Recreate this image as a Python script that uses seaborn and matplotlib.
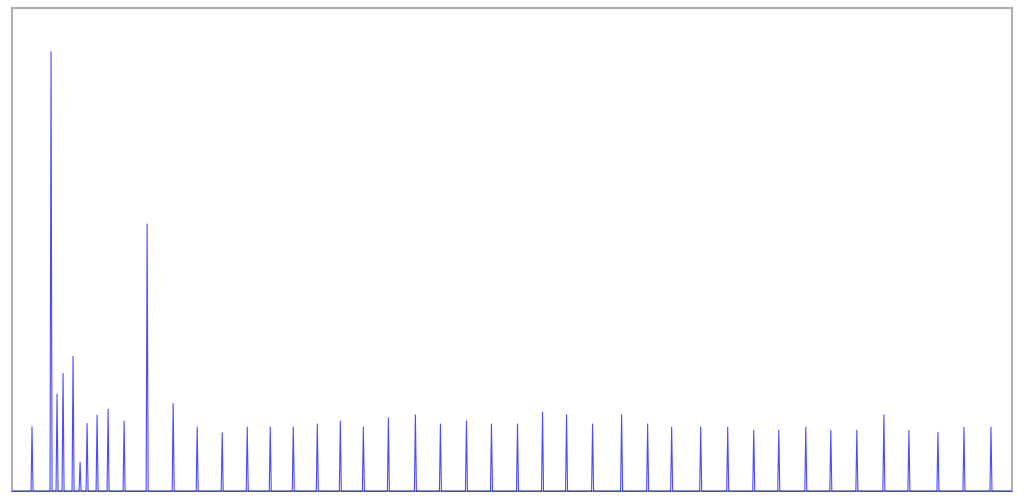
import numpy as np
import pandas as pd
import matplotlib
matplotlib.use('Agg')
import matplotlib.pyplot as plt
import seaborn as sns

# --- Dados (posição do pico no eixo de tempo, altura) ---
n_points = 1000
spike_pos = [20, 39, 45, 51, 61, 68, 75, 85, 96, 112, 135, 161, 185, 210,
             235, 258, 281, 305, 328, 351, 376, 403, 428, 454, 479, 505,
             530, 554, 580, 609, 635, 659, 688, 715, 741, 766, 793, 818,
             844, 871, 896, 925, 951, 978]
spike_val = [14.7, 100.0, 22.1, 26.8, 30.7, 6.6, 15.4, 17.3, 18.7, 16.0,
             60.8, 20.0, 14.6, 13.3, 14.6, 14.6, 14.6, 15.3, 16.0, 14.6,
             16.7, 17.4, 15.3, 16.0, 15.3, 15.3, 18.0, 17.4, 15.3, 17.4,
             15.3, 14.6, 14.6, 14.6, 13.9, 13.9, 14.6, 13.9, 13.9, 17.4,
             13.9, 13.4, 14.6, 14.6]
y_max = 110

# --- Série: zero em todo lado, exceto nos picos ---
values = np.zeros(n_points)
values[spike_pos] = spike_val
df = pd.DataFrame({'t': np.arange(n_points), 'valor': values})

sns.set_theme(style="white")
fig = plt.figure(figsize=(10.24, 5.0), dpi=100)
ax = fig.add_axes([12 / 1024, 8.7 / 500, 1000 / 1024, 483.6 / 500])

# linha por cima das bordas (a linha de base fica azulada sobre o eixo inferior)
sns.lineplot(data=df, x='t', y='valor', ax=ax, color='blue', linewidth=0.8, alpha=0.7,
             zorder=3, clip_on=False)

ax.set_xlim(0, n_points - 1)
ax.set_ylim(0, y_max)
ax.set_xticks([])
ax.set_yticks([])
ax.set_xlabel(None)
ax.set_ylabel(None)
for side in ['left', 'right', 'top', 'bottom']:
    ax.spines[side].set_color('#b0b0b0')
    ax.spines[side].set_linewidth(1.5)

fig.savefig('out.png', dpi=100)
